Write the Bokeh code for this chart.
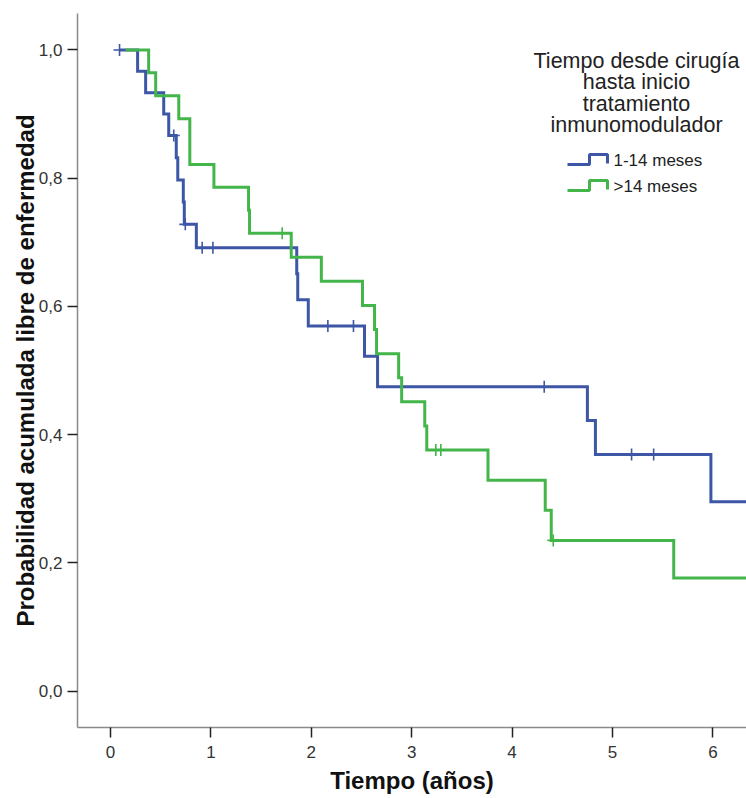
import numpy as np
from bokeh.plotting import figure
from bokeh.models import Range1d, FixedTicker, Label
from bokeh.embed import file_html
from bokeh.resources import INLINE

# ---------------- datos ----------------
grupos = ["1-14 meses", ">14 meses"]
colores = ["#3D56A6", "#43B54A"]

# tiempos (años) de recaída y de censura por grupo
eventos_1 = [0.27, 0.35, 0.53, 0.58, 0.655, 0.67, 0.725, 0.735, 0.855,
             1.855, 1.865, 1.97, 2.53, 2.66, 4.75, 4.83, 5.98]
censuras_1 = [0.09, 0.63, 0.745, 0.913, 1.02, 2.165, 2.42, 4.32, 5.19, 5.41,
              6.6, 6.9, 7.3, 7.8]
eventos_2 = [0.38, 0.45, 0.68, 0.79, 0.79, 1.03, 1.375, 1.385, 1.80, 2.10,
             2.51, 2.63, 2.65, 2.87, 2.90, 3.13, 3.15, 3.76, 4.33, 4.39, 5.61]
censuras_2 = [1.71, 3.24, 3.29, 4.41, 6.7, 7.1, 7.6]
inicio = [0.09, 0.15]

x_ticks = [0, 1, 2, 3, 4, 5, 6]
y_ticks = [0.0, 0.2, 0.4, 0.6, 0.8, 1.0]
y_tick_labels = ["0,0", "0,2", "0,4", "0,6", "0,8", "1,0"]
titulo_leyenda = ["Tiempo desde cirugía", "hasta inicio", "tratamiento", "inmunomodulador"]
x_titulo = "Tiempo (años)"
y_titulo = "Probabilidad acumulada libre de enfermedad"


def kaplan_meier(eventos, censuras, t0):
    ev = np.array(eventos, dtype=float)
    ce = np.array(censuras, dtype=float)
    tiempos = np.unique(np.concatenate([ev, ce]))
    n = len(ev) + len(ce)
    s = 1.0
    xs, ys = [t0], [1.0]
    cx, cy = [], []
    for t in tiempos:
        d = int(np.sum(np.isclose(ev, t)))
        c = int(np.sum(np.isclose(ce, t)))
        if d > 0:
            nuevo = s * (n - d) / n
            xs += [t, t]
            ys += [s, nuevo]
            s = nuevo
        if c > 0:
            cx += [t] * c
            cy += [s] * c
        n -= d + c
    xs.append(float(tiempos.max()))
    ys.append(s)
    return xs, ys, cx, cy


# ---------------- figura ----------------
W, H = 746, 798
FL, FR, FT, FB = 77, 746, 13, 727   # marco en píxeles
xr = Range1d(-0.3287, 6.3347)
yr = Range1d(-0.0569, 1.0569)

p = figure(width=W, height=H, x_range=xr, y_range=yr,
           output_backend="svg", toolbar_location=None,
           min_border_left=FL, min_border_right=W - FR,
           min_border_top=FT, min_border_bottom=H - FB)
p.outline_line_color = None
p.grid.visible = False
p.background_fill_color = "white"
p.border_fill_color = "white"


def px2x(px):
    return xr.start + (px - FL) / (FR - FL) * (xr.end - xr.start)


def px2y(py):
    return yr.end - (py - FT) / (FB - FT) * (yr.end - yr.start)


FONT = "Liberation Sans"

for ax in (p.xaxis[0], p.yaxis[0]):
    ax.axis_line_color = "#8a8a8a"
    ax.axis_line_width = 1.5
    ax.major_tick_line_color = "#222222"
    ax.major_tick_line_width = 1.5
    ax.major_tick_in = 0
    ax.major_tick_out = 10
    ax.minor_tick_line_color = None
    ax.major_label_text_font = FONT
    ax.major_label_text_font_size = "17px"
    ax.major_label_text_color = "#333333"
    ax.major_label_standoff = 5
    ax.axis_label_text_font = FONT
    ax.axis_label_text_font_size = "24px"
    ax.axis_label_text_font_style = "bold"
    ax.axis_label_text_color = "#111111"

p.xaxis.ticker = FixedTicker(ticks=x_ticks)
p.yaxis.ticker = FixedTicker(ticks=y_ticks)
p.yaxis.major_label_overrides = {t: l for t, l in zip(y_ticks, y_tick_labels)}
p.xaxis.major_label_standoff = 8
p.xaxis.axis_label = x_titulo
p.xaxis.axis_label_standoff = 6
p.yaxis.axis_label = y_titulo
p.yaxis.axis_label_standoff = -3

datos = [(eventos_1, censuras_1, inicio[0]), (eventos_2, censuras_2, inicio[1])]
for (ev, ce, t0), color in zip(datos, colores):
    xs, ys, cx, cy = kaplan_meier(ev, ce, t0)
    p.line(xs, ys, line_color=color, line_width=3, line_join="miter")
    p.scatter(cx, cy, marker="cross", size=12, line_color=color, line_width=1.6)

# ---------------- leyenda ----------------
for i, linea in enumerate(titulo_leyenda):
    p.add_layout(Label(x=px2x(636), y=px2y(60 + 21.6 * i), text=linea,
                       text_align="center", text_baseline="middle",
                       text_font=FONT, text_font_size="21.5px",
                       text_color="#222222"))

sim_x = [567, 589, 589, 607, 607]
sim_y = [164, 164, 154, 154, 163]
for i, (g, color) in enumerate(zip(grupos, colores)):
    dy = 26 * i
    p.line([px2x(v) for v in sim_x], [px2y(v + dy) for v in sim_y],
           line_color=color, line_width=3)
    p.add_layout(Label(x=px2x(613), y=px2y(160 + dy), text=g,
                       text_align="left", text_baseline="middle",
                       text_font=FONT, text_font_size="17px",
                       text_color="#222222"))

open("out.html", "w").write(file_html(p, INLINE))
